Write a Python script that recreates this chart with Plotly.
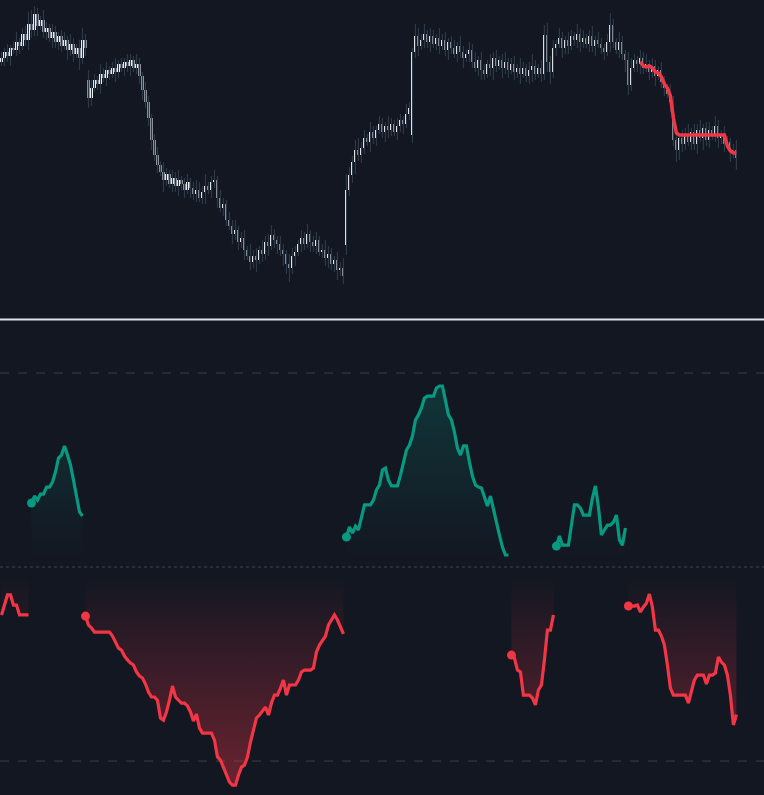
import plotly.graph_objects as go

BG = "#131722"
GREEN = "#089981"
RED = "#f23645"
WICK = "#2b3a46"
UP_BODY = "#ffffff"
DN_BODY = "#9598a1"

# ---------------- price bars (top pane) ----------------
closes = [
    272, 278, 274, 282, 280, 288, 284, 296, 290, 306,
    300, 316, 304, 310, 298, 302, 292, 298, 288, 294,
    284, 290, 280, 286, 276, 282, 272, 290, 282, 232,
    242, 250, 246, 256, 252, 260, 256, 262, 258, 266,
    262, 268, 264, 270, 262, 266, 254, 240, 228, 212,
    190, 175, 165, 158, 150, 156, 146, 152, 144, 150,
    146, 140, 148, 142, 136, 140, 132, 138, 144, 140,
    148, 150, 132, 122, 126, 110, 104, 96, 100, 88,
    92, 80, 74, 68, 74, 70, 80, 76, 88, 84,
    95, 90, 86, 80, 76, 66, 62, 74, 78, 86,
    92, 86, 96, 88, 84, 90, 78, 80, 72, 76,
    66, 70, 60, 62, 54, 140, 155, 168, 180, 175,
    182, 192, 188, 198, 192, 200, 206, 198, 204, 200,
    206, 198, 204, 210, 206, 216, 222, 278, 294, 284,
    290, 296, 288, 294, 286, 292, 284, 290, 280, 288,
    282, 276, 284, 278, 272, 276, 280, 268, 262, 270,
    260, 256, 266, 262, 272, 264, 270, 262, 268, 260,
    266, 258, 262, 256, 262, 254, 260, 264, 256, 262,
    256, 295, 268, 258, 282, 286, 292, 282, 290, 284,
    294, 290, 296, 288, 292, 286, 294, 284, 290, 286,
    282, 278, 288, 305, 288, 280, 288, 276, 270, 245,
    262, 270, 266, 272, 262, 266, 258, 264, 254, 260,
    248, 242, 236, 228, 190, 180, 192, 186, 196, 188,
    198, 186, 200, 192, 202, 190, 200, 194, 204, 192,
    196, 186, 188, 178, 180, 172,
]

# opens that differ from the previous close (gaps)
gap_opens = {0: 268, 29: 250, 115: 85, 137: 195}

wick_hi = [
    6, 4, 8, 3, 6, 10, 4, 6, 8, 12,
    14, 8, 6, 4, 10, 6, 4, 8, 6, 4,
    6, 8, 4, 10, 6, 4, 8, 12, 6, 10,
    8, 6, 4, 10, 6, 8, 4, 6, 10, 4,
    6, 4, 8, 6, 4, 10, 6, 4, 8, 6,
    4, 6, 8, 4, 10, 6, 4, 8, 6, 10,
    4, 6, 8, 4, 6, 10, 8, 6, 12, 4,
    6, 10, 4, 8, 6, 4, 8, 6, 10, 4,
    6, 8, 4, 12, 6, 8, 4, 10, 6, 8,
    10, 6, 4, 8, 6, 4, 10, 8, 6, 4,
    8, 6, 10, 4, 6, 8, 4, 6, 10, 8,
    6, 4, 8, 6, 10, 16, 8, 6, 10, 12,
    6, 8, 4, 10, 6, 4, 8, 6, 4, 10,
    6, 4, 8, 6, 4, 10, 6, 4, 12, 8,
    6, 10, 4, 8, 6, 4, 10, 6, 8, 4,
    6, 8, 4, 10, 6, 4, 8, 6, 10, 4,
    8, 6, 4, 10, 6, 8, 4, 6, 10, 4,
    6, 8, 4, 10, 6, 4, 8, 12, 6, 4,
    8, 10, 12, 6, 8, 4, 10, 6, 4, 8,
    6, 4, 10, 6, 8, 4, 6, 10, 4, 8,
    6, 4, 8, 12, 6, 4, 10, 6, 4, 8,
    10, 6, 4, 8, 6, 10, 4, 8, 6, 4,
    8, 6, 4, 10, 6, 12, 4, 8, 6, 10,
    4, 8, 6, 10, 4, 6, 8, 4, 10, 6,
    4, 8, 6, 4, 6, 10,
]

wick_lo = [
    4, 8, 6, 10, 4, 6, 8, 4, 6, 10,
    8, 6, 10, 4, 6, 8, 4, 10, 6, 8,
    6, 4, 10, 6, 8, 4, 12, 6, 8, 10,
    8, 4, 6, 10, 4, 8, 6, 4, 10, 6,
    4, 8, 6, 10, 4, 6, 8, 10, 6, 8,
    10, 6, 8, 4, 12, 6, 4, 8, 6, 10,
    6, 8, 4, 10, 6, 8, 4, 6, 12, 4,
    8, 6, 10, 4, 8, 6, 4, 10, 6, 8,
    6, 10, 4, 8, 6, 12, 4, 8, 6, 10,
    4, 8, 10, 6, 12, 10, 14, 6, 10, 4,
    8, 6, 4, 10, 6, 8, 4, 6, 8, 10,
    6, 8, 10, 6, 8, 10, 6, 8, 12, 6,
    8, 6, 4, 10, 6, 8, 4, 6, 10, 8,
    6, 4, 8, 6, 10, 4, 6, 8, 6, 10,
    4, 8, 6, 10, 4, 6, 8, 4, 6, 10,
    6, 4, 8, 6, 10, 4, 8, 6, 4, 8,
    10, 6, 4, 8, 12, 6, 4, 10, 6, 8,
    4, 8, 6, 10, 4, 6, 8, 12, 6, 4,
    8, 6, 10, 12, 6, 8, 4, 10, 6, 8,
    4, 6, 8, 10, 6, 4, 8, 6, 10, 4,
    6, 8, 4, 10, 6, 4, 8, 6, 12, 10,
    6, 4, 8, 10, 6, 4, 8, 6, 10, 4,
    6, 8, 4, 10, 6, 12, 10, 8, 6, 4,
    8, 6, 10, 4, 12, 6, 8, 4, 6, 10,
    6, 8, 4, 10, 6, 12,
]

# trailing line drawn on the price pane
stop_start = 213
stop_vals = [
    268, 264, 263, 264, 262, 258, 257, 253, 246, 242, 234, 212, 197, 195,
    195, 195, 195, 195, 195, 195, 195, 195, 195, 195, 195, 195, 195, 195, 195,
    184, 179, 177, 177,
]

# ---------------- oscillator (bottom pane) ----------------
osc = [
    -24.7, -19.0, -14.4, -14.4, -19.6, -19.6, -24.7, -24.7, -24.7, -24.7,
    33.0, 36.6, 34.5, 37.6, 37.6, 41.2, 41.2, 43.8, 49.0, 56.2,
    57.7, 62.4, 57.7, 52.6, 44.8, 35.6, 28.4, 26.3, -25.3, -29.9,
    -31.4, -33.5, -33.5, -33.5, -33.5, -33.5, -33.5, -35.6, -38.7, -41.8,
    -42.8, -45.9, -47.9, -49.5, -50.5, -54.1, -56.2, -57.2, -60.3, -64.4,
    -67.0, -67.0, -68.6, -77.8, -78.9, -74.7, -68.6, -61.3, -67.0, -68.6,
    -70.1, -70.1, -71.6, -74.7, -79.4, -75.8, -83.0, -85.6, -85.6, -85.6,
    -85.6, -89.2, -97.9, -99.5, -103.1, -106.2, -110.8, -112.4, -112.4, -107.2,
    -103.1, -102.1, -97.9, -90.2, -84.0, -77.8, -76.3, -74.2, -72.2, -76.3,
    -70.1, -66.0, -66.0, -62.4, -58.2, -66.0, -60.8, -60.8, -60.8, -58.2,
    -54.1, -53.1, -53.1, -53.1, -52.1, -43.8, -40.2, -38.1, -35.6, -29.9,
    -27.3, -24.7, -27.3, -30.9, -34.5, 15.5, 20.6, 17.5, 21.1, 19.1,
    25.3, 32.0, 32.0, 32.0, 34.5, 39.7, 42.3, 50.0, 51.0, 44.8,
    41.8, 41.8, 41.8, 47.4, 54.1, 60.3, 62.9, 67.5, 75.8, 78.4,
    82.0, 87.1, 88.1, 88.1, 88.1, 92.3, 93.3, 93.3, 85.1, 78.4,
    75.8, 69.6, 61.3, 57.7, 62.4, 62.4, 54.1, 46.9, 42.3, 41.2,
    40.7, 36.6, 31.4, 36.6, 29.4, 23.2, 16.5, 10.3, 6.2, 6.2,
    -45.4, -46.9, -53.1, -54.1, -66.0, -66.0, -66.0, -67.5, -71.1, -63.4,
    -60.8, -47.9, -32.5, -32.5, -24.7, 10.8, 16.0, 11.3, 11.3, 11.3,
    21.6, 32.0, 32.0, 30.4, 26.8, 26.8, 26.8, 35.6, 41.8, 30.9,
    16.5, 19.1, 21.6, 21.6, 23.2, 26.8, 13.9, 11.3, 20.1, -20.1,
    -20.1, -20.1, -19.6, -23.2, -20.6, -18.6, -13.9, -20.6, -32.5, -32.5,
    -35.6, -40.2, -50.5, -62.4, -66.0, -66.0, -66.0, -66.0, -66.0, -70.1,
    -64.4, -58.2, -55.7, -55.7, -55.7, -60.3, -55.7, -55.7, -54.6, -46.4,
    -49.0, -50.5, -55.7, -66.0, -81.4, -76.0,
]
levels = [100, -100]
fill_base = 5
grad_extent = 110

N = len(closes)
M = min(N, len(wick_hi), len(wick_lo), len(osc))
idx = list(range(M))
opens = [gap_opens.get(i, closes[i - 1] if i > 0 else closes[0]) for i in idx]
highs = [max(opens[i], closes[i]) + wick_hi[i] for i in idx]
lows = [min(opens[i], closes[i]) - wick_lo[i] for i in idx]

fig = go.Figure()

# wicks
wx, wy = [], []
for i in idx:
    wx += [i, i, None]
    wy += [lows[i], highs[i], None]
fig.add_trace(go.Scatter(x=wx, y=wy, mode="lines", line=dict(color=WICK, width=1.2),
                         hoverinfo="skip", showlegend=False, xaxis="x", yaxis="y"))

# bodies
bases = [min(opens[i], closes[i]) for i in idx]
heights = [max(abs(closes[i] - opens[i]), 1) for i in idx]
colors = [UP_BODY if closes[i] >= opens[i] else DN_BODY for i in idx]
fig.add_trace(go.Bar(x=idx, y=heights, base=bases, width=0.68,
                     marker=dict(color=colors, line=dict(width=0)),
                     hoverinfo="skip", showlegend=False, xaxis="x", yaxis="y"))

# trailing line
stop_x = list(range(stop_start, stop_start + len(stop_vals)))
fig.add_trace(go.Scatter(x=stop_x, y=stop_vals, mode="lines",
                         line=dict(color=RED, width=3.5), hoverinfo="skip",
                         showlegend=False, xaxis="x", yaxis="y"))

# oscillator segments split by sign
segments = []
cur = [0]
for i in idx[1:]:
    if (osc[i] >= 0) == (osc[i - 1] >= 0):
        cur.append(i)
    else:
        segments.append(cur)
        cur = [i]
segments.append(cur)

for seg in segments:
    xs = seg
    ys = [osc[i] for i in seg]
    pos = ys[0] >= 0
    col = GREEN if pos else RED
    base = fill_base if pos else -fill_base
    if pos:
        grad = dict(type="vertical", start=base, stop=grad_extent,
                    colorscale=[[0, "rgba(8,153,129,0.0)"], [1, "rgba(8,153,129,0.28)"]])
    else:
        grad = dict(type="vertical", start=-grad_extent, stop=base,
                    colorscale=[[0, "rgba(242,54,69,0.38)"], [1, "rgba(242,54,69,0.0)"]])
    px = xs + xs[::-1]
    py = ys + [base] * len(xs)
    fig.add_trace(go.Scatter(x=px, y=py, mode="lines", line=dict(width=0),
                             fill="toself", fillgradient=grad, hoverinfo="skip",
                             showlegend=False, xaxis="x", yaxis="y2"))
    fig.add_trace(go.Scatter(x=xs, y=ys, mode="lines", line=dict(color=col, width=3.2),
                             hoverinfo="skip", showlegend=False, xaxis="x", yaxis="y2"))
    if seg[0] > 0:
        fig.add_trace(go.Scatter(x=[xs[0]], y=[ys[0]], mode="markers",
                                 marker=dict(color=col, size=9), hoverinfo="skip",
                                 showlegend=False, xaxis="x", yaxis="y2"))

shapes = []
for lv in levels:
    shapes.append(dict(type="line", xref="paper", x0=0, x1=1, yref="y2", y0=lv, y1=lv,
                       line=dict(color="#3a3e4a", width=1, dash="dash"), layer="below"))
shapes.append(dict(type="line", xref="paper", x0=0, x1=1, yref="y2", y0=0, y1=0,
                   line=dict(color="#434651", width=1, dash="dot"), layer="below"))
shapes.append(dict(type="line", xref="paper", x0=0, x1=1, yref="paper",
                   y0=1 - 319.5 / 795, y1=1 - 319.5 / 795,
                   line=dict(color="#e0e3eb", width=2)))

axis_off = dict(visible=False, showgrid=False, zeroline=False, fixedrange=True)
fig.update_layout(
    width=764, height=795,
    margin=dict(l=0, r=0, t=0, b=0),
    paper_bgcolor=BG, plot_bgcolor=BG,
    showlegend=False,
    bargap=0,
    xaxis=dict(range=[-0.5, 254.2], anchor="y2", **axis_off),
    yaxis=dict(domain=[0.6, 1.0], range=[12, 330], **axis_off),
    yaxis2=dict(domain=[0.0, 0.5962], range=[-117.5, 126.8], **axis_off),
    shapes=shapes,
    hovermode=False,
)

fig.write_html(
    "out.html",
    config={"displayModeBar": False},
    post_script="document.body.style.margin='0';document.body.style.background='#131722';document.body.style.overflow='hidden';",
)
